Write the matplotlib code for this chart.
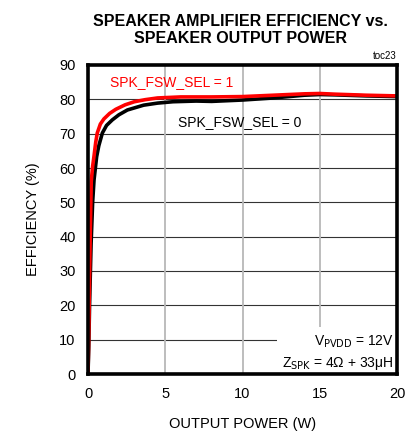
import matplotlib
matplotlib.use("Agg")
import matplotlib.pyplot as plt
from matplotlib.patches import Rectangle

# Efficiency curves
red_x = [0, 0.05, 0.1, 0.15, 0.21, 0.3, 0.39, 0.5, 0.6, 0.8, 1.03, 1.4, 1.8,
         2.4, 3.0, 3.7, 4.5, 6, 8, 10, 12, 14, 15, 16, 18, 20]
red_y = [0, 12, 28, 42, 56, 60.5, 63.5, 67.5, 70.2, 72.8, 74.3, 75.9, 77.1,
         78.4, 79.3, 79.9, 80.4, 80.7, 80.7, 80.8, 81.2, 81.6, 81.7, 81.5, 81.2, 81.0]
black_x = [0, 0.05, 0.1, 0.2, 0.3, 0.39, 0.56, 0.7, 0.93, 1.2, 1.57, 2.0, 2.55,
           3.6, 4.5, 5.5, 7, 8, 9, 10, 12, 14, 15, 16, 18, 20]
black_y = [0, 8, 20, 38, 50, 56.5, 63.3, 66.5, 70.2, 72.4, 74.0, 75.5, 76.9,
           78.3, 78.9, 79.3, 79.5, 79.4, 79.6, 79.8, 80.4, 81.2, 81.4, 81.3, 81.0, 80.8]

x_ticks = [0, 5, 10, 15, 20]
y_ticks = [0, 10, 20, 30, 40, 50, 60, 70, 80, 90]

plt.rcParams["font.family"] = ["Liberation Sans", "DejaVu Sans"]

fig = plt.figure(figsize=(4.15, 4.33), dpi=100)
ax = fig.add_axes([88 / 415, 1 - 374 / 433, 309 / 415, 309 / 433])

ax.set_xlim(0, 20)
ax.set_ylim(0, 90)
ax.set_xticks(x_ticks)
ax.set_yticks(y_ticks)
ax.tick_params(length=0, labelsize=10.5, pad=9)

for v in y_ticks[1:-1]:
    ax.axhline(v, color="#333333", lw=0.8, zorder=1)
for v in x_ticks[1:-1]:
    ax.axvline(v, color="#b8b8b8", lw=1.3, zorder=1)

# white patch behind the conditions text
ax.add_patch(Rectangle((0.612, 0.0), 0.388, 0.152, transform=ax.transAxes,
                       facecolor="white", edgecolor="none", zorder=2))

ax.plot(black_x, black_y, color="black", lw=2.6, zorder=3)
ax.plot(red_x, red_y, color="#ff0000", lw=2.6, zorder=4)

for s in ax.spines.values():
    s.set_linewidth(2.6)
    s.set_zorder(5)

ax.text(1.4, 85, "SPK_FSW_SEL = 1", color="#ff0000", fontsize=10,
        va="center", ha="left")
ax.text(5.8, 73.4, "SPK_FSW_SEL = 0", color="black", fontsize=10,
        va="center", ha="left")
ax.text(0.99, 0.105, r"V$_{\mathrm{PVDD}}$ = 12V", transform=ax.transAxes,
        fontsize=10, ha="right", va="center", zorder=6)
ax.text(0.99, 0.035, r"Z$_{\mathrm{SPK}}$ = 4Ω + 33μH", transform=ax.transAxes,
        fontsize=10, ha="right", va="center", zorder=6)

ax.text(1.0, 1.012, "toc23", transform=ax.transAxes, fontsize=7,
        ha="right", va="bottom")

fig.text(240 / 415, 1 - 30 / 433,
         "SPEAKER AMPLIFIER EFFICIENCY vs.\nSPEAKER OUTPUT POWER",
         ha="center", va="center", fontsize=11.5, fontweight="bold",
         linespacing=1.15)

ax.set_xlabel("OUTPUT POWER (W)", fontsize=10.5, labelpad=12)
ax.set_ylabel("EFFICIENCY (%)", fontsize=10.5, labelpad=14)

fig.savefig("out.png", dpi=100)
